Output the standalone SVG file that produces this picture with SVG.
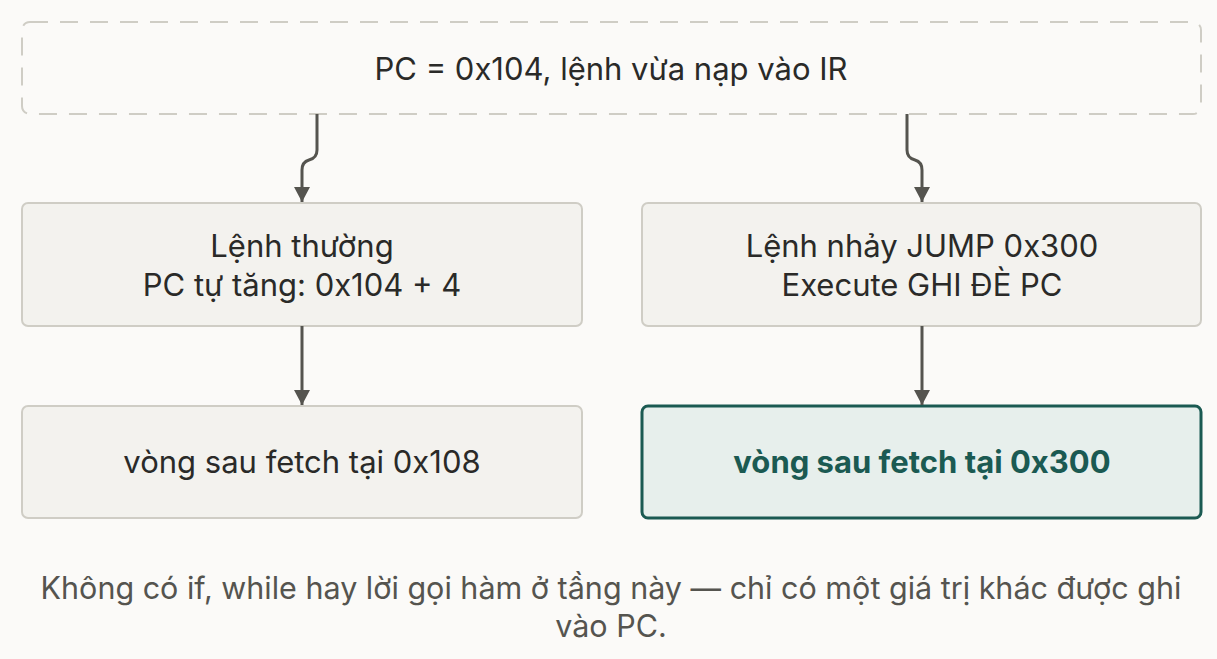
<svg xmlns="http://www.w3.org/2000/svg" width="1217" height="659" viewBox="0 0 1217 659">
<style>
text{font-family:Inter,"Noto Sans",sans-serif;font-size:31px;fill:#2a2a28;text-anchor:middle}
.n{fill:#f3f2ee;stroke:#cfcdc5;stroke-width:2}
.c{fill:none;stroke:#55544f;stroke-width:3}
</style>
<defs>
<marker id="b" viewBox="0 0 15 16" refX="15" refY="8" markerWidth="15" markerHeight="16" orient="auto" markerUnits="userSpaceOnUse"><path d="M0,0L15,8L0,16z" fill="#55544f"/></marker></defs>
<rect width="1217" height="659" fill="#fbfaf8"/>
<g id="top"><rect x="22" y="22" width="1179" height="92" rx="8" fill="#fbfaf8" stroke="#cfcdc5" stroke-width="2" stroke-dasharray="18,12"/><text x="611" y="80">PC = 0x104, lệnh vừa nạp vào IR</text></g>
<g id="left"><rect class="n" x="22" y="203" width="560" height="123" rx="6"/><text x="302" y="257">Lệnh thường</text><text x="302" y="296">PC tự tăng: 0x104 + 4</text></g>
<g id="right"><rect class="n" x="642" y="203" width="559" height="123" rx="6"/><text x="922" y="257">Lệnh nhảy JUMP 0x300</text><text x="922" y="296">Execute GHI ĐÈ PC</text></g>
<g id="lb"><rect class="n" x="22" y="406" width="560" height="112" rx="6"/><text x="302" y="473">vòng sau fetch tại 0x108</text></g>
<g id="rb"><rect x="642" y="406" width="559" height="112" rx="6" fill="#e7efec" stroke="#1b5a52" stroke-width="3"/><text x="922" y="473" style="fill:#1b5a52;font-weight:bold">vòng sau fetch tại 0x300</text></g>
<g id="connectors">
<path class="c" d="M317,114V150Q317,158 309,160Q302,162 302,170V202" marker-end="url(#b)"/>
<path class="c" d="M907,114V150Q907,158 915,160Q922,162 922,170V202" marker-end="url(#b)"/>
<path class="c" d="M302,326V405" marker-end="url(#b)"/>
<path class="c" d="M922,326V405" marker-end="url(#b)"/>
</g>
<text x="611" y="599" style="fill:#55544f;font-size:30.5px">Không có if, while hay lời gọi hàm ở tầng này — chỉ có một giá trị khác được ghi</text>
<text x="611" y="637" style="fill:#55544f;font-size:30.5px">vào PC.</text>
</svg>
